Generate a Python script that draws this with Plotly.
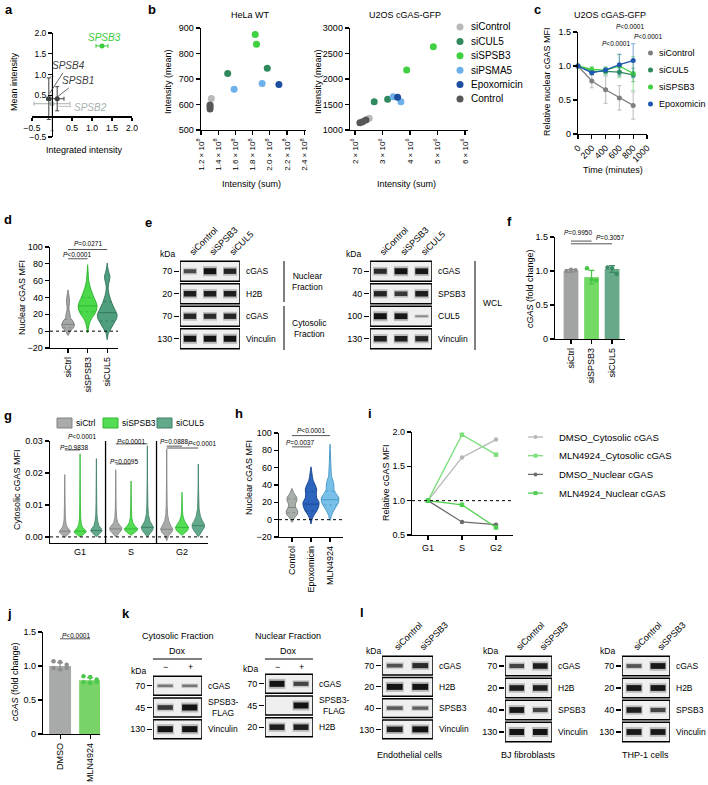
import numpy as np
import plotly.graph_objects as go

W, H = 708, 785
FONT = "Liberation Sans, Arial, Helvetica, sans-serif"

# ===================== DATA =====================
# a
A_GENES = ["SPSB2", "SPSB4", "SPSB1", "SPSB3"]
A_X = [0.0, -0.08, 0.13, 1.25]
A_Y = [0.30, 0.42, 0.42, 1.69]
A_XERR = [0.45, 0.05, 0.17, 0.15]
A_YERR = [0.65, 0.50, 0.29, 0.03]

# b
B_GROUPS = ["siControl", "siCUL5", "siSPSB3", "siPSMA5", "Epoxomicin", "Control"]
HELA_X = [[1.32], [1.51, 1.97], [1.83, 1.845], [1.585, 1.91], [2.105], [1.305, 1.305, 1.305]]   # x 10^8
HELA_Y = [[624], [722, 742], [875, 836], [660, 682], [678], [598, 591, 582]]
U2OS_X = [[2.52], [2.70, 3.19], [3.88, 4.85], [3.39, 3.67], [3.55], [2.18, 2.28, 2.40]]        # x 10^6
U2OS_Y = [[1229], [1555, 1602], [2176, 2633], [1653, 1555], [1641], [1143, 1163, 1196]]
HELA_TICKS = [1.2, 1.4, 1.6, 1.8, 2.0, 2.2, 2.4]
U2OS_TICKS = [2, 3, 4, 5, 6]

# c
C_GROUPS = ["siControl", "siCUL5", "siSPSB3", "Epoxomicin"]
C_TIME = [0, 200, 400, 600, 800]
C_VALS = [[1.0, 0.78, 0.65, 0.53, 0.42],
          [1.0, 0.92, 0.92, 0.91, 0.87],
          [1.0, 0.95, 0.94, 1.00, 0.89],
          [1.0, 0.90, 0.94, 1.02, 1.08]]
C_ERR = [[0, 0.10, 0.20, 0.18, 0.20],
         [0, 0.05, 0.05, 0.06, 0.10],
         [0, 0.04, 0.05, 0.17, 0.25],
         [0, 0.02, 0.03, 0.15, 0.25]]

# d  (violin outlines: value levels and half widths)
D_CATS = ["siCtrl", "siSPSB3", "siCUL5"]
D_Y = [[-5, 0, 4, 8, 12, 16, 20, 25, 30, 35, 40, 45, 49],
       [-2, 5, 10, 15, 20, 25, 30, 35, 40, 45, 50, 55, 60, 65, 70, 79],
       [-10, -3, 5, 10, 15, 20, 25, 30, 35, 40, 45, 50, 55, 60, 65, 70, 75, 81]]
D_W = [[0.0, 0.12, 0.28, 0.32, 0.25, 0.12, 0.10, 0.05, 0.05, 0.08, 0.06, 0.03, 0.0],
       [0.0, 0.05, 0.10, 0.20, 0.35, 0.45, 0.48, 0.42, 0.32, 0.24, 0.16, 0.10, 0.06, 0.04, 0.025, 0.0],
       [0.0, 0.05, 0.24, 0.36, 0.48, 0.50, 0.40, 0.30, 0.21, 0.14, 0.08, 0.05, 0.06, 0.11, 0.14, 0.08, 0.03, 0.0]]
D_MED = [8, 30, 22]
D_Q = [[4, 14], [23, 40], [12, 35]]

# e blots (band intensity, rows x lanes)
E1_LANES = ["siControl", "siSPSB3", "siCUL5"]
E1_KDA = ["70", "20", "70", "130"]
E1_NAMES = ["cGAS", "H2B", "cGAS", "Vinculin"]
E1_INT = [[0.55, 1.0, 0.85], [0.9, 0.9, 0.9], [0.85, 0.8, 0.85], [1.0, 1.0, 1.0]]
E2_KDA = ["70", "40", "100", "130"]
E2_NAMES = ["cGAS", "SPSB3", "CUL5", "Vinculin"]
E2_INT = [[0.8, 1.0, 0.95], [0.85, 0.7, 0.9], [1.0, 0.95, 0.1], [0.9, 0.9, 0.85]]

# f
F_CATS = ["siCtrl", "siSPSB3", "siCUL5"]
F_MEAN = [1.0, 0.91, 1.03]
F_SD = [0.02, 0.10, 0.05]
F_PTS = [[1.0, 1.02, 1.01], [1.04, 0.87, 0.86], [1.05, 1.04, 0.96]]

# g
G_PHASES = ["G1", "S", "G2"]
G_SERIES = ["siCtrl", "siSPSB3", "siCUL5"]
G_Y = [[[-0.0002, 0.0008, 0.0015, 0.002, 0.003, 0.004, 0.006, 0.010, 0.015, 0.0195],
        [0.0, 0.0008, 0.0015, 0.002, 0.003, 0.004, 0.006, 0.010, 0.018, 0.026],
        [0.0, 0.0010, 0.0018, 0.0025, 0.0035, 0.005, 0.007, 0.011, 0.018, 0.0245]],
       [[0.0, 0.0010, 0.0020, 0.0028, 0.0035, 0.0045, 0.006, 0.009, 0.015, 0.021],
        [0.0005, 0.0012, 0.0020, 0.0026, 0.0033, 0.0045, 0.006, 0.009, 0.013, 0.0175],
        [0.0, 0.0010, 0.0020, 0.0030, 0.0040, 0.005, 0.007, 0.010, 0.018, 0.0285]],
       [[-0.0012, 0.0005, 0.0015, 0.0025, 0.0035, 0.005, 0.007, 0.010, 0.018, 0.0275],
        [0.0005, 0.0012, 0.0020, 0.0030, 0.0040, 0.005, 0.0065, 0.008, 0.011, 0.014],
        [0.0, 0.0010, 0.0020, 0.0030, 0.0040, 0.005, 0.0065, 0.009, 0.015, 0.0228]]]
G_W = [[[0, 0.06, 0.11, 0.10, 0.05, 0.025, 0.012, 0.007, 0.004, 0],
        [0, 0.07, 0.12, 0.11, 0.05, 0.025, 0.012, 0.007, 0.004, 0],
        [0, 0.06, 0.11, 0.10, 0.05, 0.025, 0.012, 0.007, 0.004, 0]],
       [[0, 0.05, 0.11, 0.12, 0.08, 0.04, 0.018, 0.008, 0.004, 0],
        [0, 0.06, 0.12, 0.13, 0.08, 0.035, 0.015, 0.008, 0.004, 0],
        [0, 0.05, 0.10, 0.12, 0.09, 0.05, 0.02, 0.01, 0.004, 0]],
       [[0, 0.04, 0.10, 0.12, 0.08, 0.04, 0.018, 0.009, 0.004, 0],
        [0, 0.05, 0.11, 0.13, 0.09, 0.05, 0.02, 0.01, 0.005, 0],
        [0, 0.04, 0.09, 0.12, 0.12, 0.08, 0.04, 0.015, 0.005, 0]]]
G_MED = [[0.0018, 0.0018, 0.0020], [0.0025, 0.0025, 0.0030], [0.0024, 0.0030, 0.0035]]

# h
H_CATS = ["Control", "Epoxomicin", "MLN4924"]
H_Y = [[-3, 2, 6, 10, 14, 18, 22, 26, 30, 36],
       [-5, 0, 5, 10, 15, 20, 25, 30, 35, 40, 45, 50, 55, 61],
       [-1, 5, 10, 15, 20, 25, 30, 35, 40, 45, 50, 60, 70, 80, 87]]
H_W = [[0, 0.12, 0.28, 0.30, 0.20, 0.18, 0.26, 0.24, 0.12, 0],
       [0, 0.05, 0.15, 0.30, 0.40, 0.42, 0.30, 0.28, 0.30, 0.22, 0.12, 0.07, 0.04, 0],
       [0, 0.08, 0.18, 0.32, 0.44, 0.46, 0.32, 0.20, 0.20, 0.15, 0.08, 0.05, 0.03, 0.02, 0]]
H_MED = [14, 18, 23]
H_Q = [[8, 24], [10, 32], [17, 33]]

# i
I_SERIES = ["DMSO_Cytosolic cGAS", "MLN4924_Cytosolic cGAS", "DMSO_Nuclear cGAS", "MLN4924_Nuclear cGAS"]
I_PHASES = ["G1", "S", "G2"]
I_VALS = [[1.0, 1.63, 1.89], [1.0, 1.96, 1.67], [1.0, 0.69, 0.65], [1.0, 0.94, 0.61]]

# j
J_CATS = ["DMSO", "MLN4924"]
J_MEAN = [1.0, 0.79]
J_SD = [0.05, 0.04]
J_PTS = [[1.07, 1.06, 1.02, 0.97, 0.95, 0.97], [0.85, 0.84, 0.80, 0.76, 0.75, 0.77]]

# k blots
K_KDA = ["70", "45", "130"]
K_NAMES = ["cGAS", "SPSB3-<br>FLAG", "Vinculin"]
K1_INT = [[0.25, 0.25], [0.7, 1.0], [1.0, 1.0]]
K2_KDA = ["70", "45", "20"]
K2_NAMES = ["cGAS", "SPSB3-<br>FLAG", "H2B"]
K2_INT = [[1.0, 0.6], [0.0, 1.0], [0.9, 0.9]]

# l blots
L_LANES = ["siControl", "siSPSB3"]
L_KDA = ["70", "20", "40", "130"]
L_NAMES = ["cGAS", "H2B", "SPSB3", "Vinculin"]
L_ENDO_INT = [[0.5, 0.8], [1.0, 1.0], [0.45, 0.4], [0.9, 1.0]]
L_BJ_INT = [[0.6, 0.9], [0.9, 0.9], [0.95, 0.6], [1.0, 1.0]]
L_THP_INT = [[0.5, 0.95], [0.95, 0.95], [0.9, 0.6], [0.95, 0.95]]

# ===================== HELPERS =====================
def px(x):
    return x / W

def py(y):
    return 1 - y / H

fig = go.Figure()
anns, shapes, lay = [], [], {}
count = [0]

def new_axes(xdom, ydom, xr, yr, xkw=None, ykw=None):
    count[0] += 1
    n = count[0]
    s = "" if n == 1 else str(n)
    base = dict(showline=True, linecolor="black", linewidth=1.3, ticks="outside", ticklen=4,
                tickwidth=1.2, tickcolor="black", showgrid=False, zeroline=False, automargin=False,
                tickfont=dict(size=9, color="black", family=FONT), fixedrange=True)
    xa = dict(base, domain=[px(xdom[0]), px(xdom[1])], range=xr, anchor="y" + s)
    ya = dict(base, domain=[py(ydom[1]), py(ydom[0])], range=yr, anchor="x" + s)
    if xkw:
        xa.update(xkw)
    if ykw:
        ya.update(ykw)
    lay["xaxis" + s] = xa
    lay["yaxis" + s] = ya
    return "x" + s, "y" + s

def T(text, x, y, size=8.5, xa="center", ya="middle", angle=0, color="black"):
    anns.append(dict(text=text, x=px(x), y=py(y), xref="paper", yref="paper", xanchor=xa,
                     yanchor=ya, textangle=angle, showarrow=False,
                     font=dict(size=size, color=color, family=FONT)))

def PL(x0, y0, x1, y1, color="black", width=1.0):
    shapes.append(dict(type="line", xref="paper", yref="paper", x0=px(x0), y0=py(y0),
                       x1=px(x1), y1=py(y1), line=dict(color=color, width=width)))

def label(ch, x, y):
    T("<b>%s</b>" % ch, x, y, size=13, xa="left", ya="middle")

def ptext(t, x, y):
    T("<i>P</i>" + t, x, y, size=6.5)

def bracket(xa, ya, x0, x1, yv, color="#555", width=1.0):
    shapes.append(dict(type="line", xref=xa, yref=ya, x0=x0, x1=x1, y0=yv, y1=yv,
                       line=dict(color=color, width=width)))

def dotted(xa, ya, yv):
    shapes.append(dict(type="line", xref=xa + " domain", yref=ya, x0=0, x1=1, y0=yv, y1=yv,
                       line=dict(color="black", width=1, dash="dot")))

def violin(xa, ya, xc, ys, ws, fill, line, med, quart=None, smooth=True, lw=1.0):
    xs = [xc + w for w in ws] + [xc - w for w in reversed(ws)]
    yy = list(ys) + list(reversed(ys))
    fig.add_trace(go.Scatter(x=xs, y=yy, mode="lines", fill="toself", fillcolor=fill,
                             line=dict(color=line, width=lw, shape="spline" if smooth else "linear", smoothing=0.7),
                             xaxis=xa, yaxis=ya, showlegend=False, hoverinfo="skip"))
    w = float(np.interp(med, ys, ws))
    fig.add_trace(go.Scatter(x=[xc - w, xc + w], y=[med, med], mode="lines",
                             line=dict(color=line, width=1), xaxis=xa, yaxis=ya,
                             showlegend=False, hoverinfo="skip"))
    if quart:
        for q in quart:
            w = float(np.interp(q, ys, ws))
            fig.add_trace(go.Scatter(x=[xc - w, xc + w], y=[q, q], mode="lines",
                                     line=dict(color=line, width=0.8, dash="dot"), xaxis=xa, yaxis=ya,
                                     showlegend=False, hoverinfo="skip"))

def blot(box, inten, kda, names, lanes=None):
    x0, y0, x1, y1 = box
    nr, nl = len(inten), len(inten[0])
    xkw = dict(showline=False, ticks="", showticklabels=bool(lanes))
    if lanes:
        xkw.update(side="top", tickvals=[i + 0.5 for i in range(nl)], ticktext=lanes, tickangle=-45)
    ykw = dict(showline=False, tickvals=[i + 0.5 for i in range(nr)], ticktext=kda, ticklen=5)
    xa, ya = new_axes((x0, x1), (y0, y1), [0, nl], [nr, 0], xkw, ykw)
    for r in range(nr):
        shapes.append(dict(type="rect", xref=xa, yref=ya, x0=0, x1=nl, y0=r + 0.06, y1=r + 0.94,
                           line=dict(color="black", width=1.5), fillcolor="#efefef", layer="below"))
        for l in range(nl):
            v = inten[r][l]
            if v <= 0:
                continue
            fig.add_trace(go.Scatter(x=[l + 0.15, l + 0.85], y=[r + 0.5, r + 0.5], mode="lines",
                                     line=dict(color="rgba(0,0,0,%.2f)" % (0.08 + 0.15 * v), width=3 + 7 * v),
                                     xaxis=xa, yaxis=ya, showlegend=False, hoverinfo="skip"))
            fig.add_trace(go.Scatter(x=[l + 0.19, l + 0.81], y=[r + 0.5, r + 0.5], mode="lines",
                                     line=dict(color="rgba(10,10,10,%.2f)" % (0.3 + 0.65 * v), width=1.5 + 4.5 * v),
                                     xaxis=xa, yaxis=ya, showlegend=False, hoverinfo="skip"))
        T(names[r], x1 + 4, y0 + (r + 0.5) * (y1 - y0) / nr, xa="left")
    return xa, ya

# ===================== PANEL a =====================
label("a", 3, 10)
A_COL = ["#a7b1ae", "#3f3f3f", "#3f3f3f", "#3ccc3c"]
A_TF = dict(size=8.5, color="black", family=FONT)
xa, ya = new_axes((32, 132), (33, 137), [-0.5, 2.0], [-0.5, 2.0],
                  xkw=dict(anchor="free", position=py(116.2), tickvals=[-0.5, 0.5, 1.0, 1.5, 2.0],
                           tickformat=".1f", tickfont=A_TF, ticklen=3),
                  ykw=dict(anchor="free", position=px(52), tickvals=[-0.5, 0.5, 1.0, 1.5, 2.0],
                           tickformat=".1f", tickfont=A_TF))
for i, g in enumerate(A_GENES):
    fig.add_trace(go.Scatter(x=[A_X[i]], y=[A_Y[i]], mode="markers", xaxis=xa, yaxis=ya,
                             marker=dict(size=5, color=A_COL[i]), showlegend=False, cliponaxis=False,
                             error_x=dict(type="data", array=[A_XERR[i]], color=A_COL[i], thickness=1, width=2),
                             error_y=dict(type="data", array=[A_YERR[i]], color=A_COL[i], thickness=1, width=2)))
A_LAB_POS = {"SPSB3": (1.3, 1.9, None), "SPSB4": (0.4, 1.23, (-0.06, 0.55)),
             "SPSB1": (0.66, 0.86, (0.13, 0.46)), "SPSB2": (0.95, 0.22, (0.12, 0.24))}
for i, g in enumerate(A_GENES):
    tx, ty, tgt = A_LAB_POS[g]
    if tgt is None:
        anns.append(dict(text="<i>%s</i>" % g, x=tx, y=ty, xref=xa, yref=ya, showarrow=False,
                         font=dict(size=10, color=A_COL[i], family=FONT)))
    else:
        anns.append(dict(text="<i>%s</i>" % g, x=tgt[0], y=tgt[1], ax=tx, ay=ty, xref=xa, yref=ya,
                         axref=xa, ayref=ya, showarrow=True, arrowhead=0, arrowwidth=0.8,
                         arrowcolor=A_COL[i], standoff=0, startstandoff=1,
                         font=dict(size=10, color=A_COL[i], family=FONT)))
T("Integrated intensity", 84, 150, size=9)
T("Mean intensity", 14, 82, size=9, angle=-90)

# ===================== PANEL b =====================
label("b", 146, 10)
B_COL = ["#b9b9b9", "#2e8a5c", "#3fd13f", "#6eb0ea", "#1d4ea0", "#575757"]
xa, ya = new_axes((201, 306), (28, 130), [1.2, 2.42], [500, 900],
                  xkw=dict(tickvals=HELA_TICKS, ticktext=["%.1f × 10<sup>8</sup>" % v for v in HELA_TICKS],
                           tickangle=-90, tickfont=dict(size=8, color="black", family=FONT)),
                  ykw=dict(tickvals=[500, 600, 700, 800, 900]))
for k, g in enumerate(B_GROUPS):
    fig.add_trace(go.Scatter(x=HELA_X[k], y=HELA_Y[k], mode="markers", xaxis=xa, yaxis=ya,
                             marker=dict(size=7, color=B_COL[k]), showlegend=False, cliponaxis=False))
T("HeLa WT", 250, 15, size=9)
T("Intensity (mean)", 168, 82, size=9, angle=-90)
T("Intensity (sum)", 251, 184, size=9)

xa, ya = new_axes((350, 468), (28, 130), [1.82, 6.11], [1000, 3000],
                  xkw=dict(tickvals=U2OS_TICKS, ticktext=["%d × 10<sup>6</sup>" % v for v in U2OS_TICKS],
                           tickangle=-90, tickfont=dict(size=8, color="black", family=FONT)),
                  ykw=dict(tickvals=[1000, 1500, 2000, 2500, 3000]))
for k, g in enumerate(B_GROUPS):
    fig.add_trace(go.Scatter(x=U2OS_X[k], y=U2OS_Y[k], mode="markers", xaxis=xa, yaxis=ya,
                             marker=dict(size=7, color=B_COL[k]), showlegend=False, cliponaxis=False))
T("U2OS cGAS-GFP", 405, 15, size=9)
T("Intensity (mean)", 318, 82, size=9, angle=-90)
T("Intensity (sum)", 407, 184, size=9)
for k, g in enumerate(B_GROUPS):
    cy = 27 + 14.4 * k
    shapes.append(dict(type="circle", xref="paper", yref="paper", x0=px(456.5), x1=px(463.5),
                       y0=py(cy + 3.5), y1=py(cy - 3.5), fillcolor=B_COL[k], line=dict(width=0)))
    T(g, 469, cy, size=10, xa="left")

# ===================== PANEL c =====================
label("c", 532, 10)
C_COL = ["#808080", "#2e8a5c", "#3fd13f", "#1f58b3"]
C_ECOL = ["rgba(128,128,128,0.45)", "rgba(46,138,92,0.45)", "rgba(63,209,63,0.45)", "rgba(31,88,179,0.45)"]
xa, ya = new_axes((578, 647), (32, 134), [0, 1000], [0, 1.5],
                  xkw=dict(tickvals=[0, 200, 400, 600, 800, 1000], tickangle=-45),
                  ykw=dict(tickvals=[0, 0.5, 1.0, 1.5], ticktext=["0", "0.5", "1.0", "1.5"]))
for k, g in enumerate(C_GROUPS):
    fig.add_trace(go.Scatter(x=C_TIME, y=C_VALS[k], mode="lines+markers", xaxis=xa, yaxis=ya,
                             line=dict(color=C_COL[k], width=1.3), marker=dict(size=5, color=C_COL[k]),
                             error_y=dict(type="data", array=C_ERR[k], color=C_ECOL[k], thickness=1.2, width=2),
                             showlegend=False, cliponaxis=False))
T("U2OS cGAS-GFP", 610, 15, size=9)
T("Relative nuclear cGAS MFI", 547, 82, size=9, angle=-90)
T("Time (minutes)", 613, 170, size=9)
ptext("&lt;0.0001", 616, 44)
ptext("&lt;0.0001", 630, 27)
ptext("&lt;0.0001", 648, 37)
for k, g in enumerate(C_GROUPS):
    cy = 53 + 17 * k
    shapes.append(dict(type="circle", xref="paper", yref="paper", x0=px(648), x1=px(653),
                       y0=py(cy + 2.5), y1=py(cy - 2.5), fillcolor=C_COL[k], line=dict(width=0)))
    T(g, 657, cy, size=9, xa="left")

# ===================== PANEL d =====================
label("d", 2, 220)
D_FILL = ["#a6a8a7", "#4bd94b", "#4f9e7e"]
D_LINE = ["#7d807e", "#2fb52f", "#35775d"]
xa, ya = new_axes((50, 118), (247, 348), [-0.92, 2.55], [-20, 100],
                  xkw=dict(tickvals=[0, 1, 2], ticktext=D_CATS, tickangle=-90),
                  ykw=dict(tickvals=[-20, 0, 20, 40, 60, 80, 100]))
dotted(xa, ya, 0)
for k in range(3):
    violin(xa, ya, k, D_Y[k], D_W[k], D_FILL[k], D_LINE[k], D_MED[k], D_Q[k])
bracket(xa, ya, 0, 1, 86)
bracket(xa, ya, 0, 2, 97)
ptext("&lt;0.0001", 77, 255)
ptext("=0.0271", 88, 244)
T("Nuclear cGAS MFI", 22, 298, size=9, angle=-90)

# ===================== PANEL e =====================
label("e", 143, 223)
blot((180, 260, 240, 350), E1_INT, E1_KDA, E1_NAMES, E1_LANES)
T("kDa", 167, 254, size=8.5)
PL(284, 261, 284, 302)
PL(284, 306, 284, 350)
T("Nuclear<br>Fraction", 290, 282, xa="left", size=8.5)
T("Cytosolic<br>Fraction", 290, 328, xa="left", size=8.5)
blot((370, 260, 432, 350), E2_INT, E2_KDA, E2_NAMES, E1_LANES)
T("kDa", 353, 254, size=8.5)
PL(475, 261, 475, 350)
T("WCL", 481, 303, xa="left", size=8.5)

# ===================== PANEL f =====================
label("f", 505, 222)
F_BAR = ["#a2a4a3", "#74da66", "#68a98a"]
F_DOT = ["#8d8f8e", "#46c646", "#3a8a64"]
F_JIT = [-0.22, 0.0, 0.22]
xa, ya = new_axes((555, 625), (237, 339), [-0.78, 2.63], [0, 1.5],
                  xkw=dict(tickvals=[0, 1, 2], ticktext=F_CATS, tickangle=-90),
                  ykw=dict(tickvals=[0, 0.5, 1.0, 1.5], ticktext=["0", "0.5", "1.0", "1.5"]))
for k in range(3):
    fig.add_trace(go.Bar(x=[k], y=[F_MEAN[k]], width=0.72, marker=dict(color=F_BAR[k], line=dict(width=0)),
                         error_y=dict(type="data", array=[F_SD[k]], color=F_DOT[k], thickness=1.2, width=3),
                         xaxis=xa, yaxis=ya, showlegend=False))
    fig.add_trace(go.Scatter(x=[k + j for j in F_JIT], y=F_PTS[k], mode="markers",
                             marker=dict(size=4.5, color=F_DOT[k]), xaxis=xa, yaxis=ya, showlegend=False))
bracket(xa, ya, 0, 1, 1.44)
bracket(xa, ya, 0, 2, 1.40)
ptext("=0.9950", 578, 233)
ptext("=0.3057", 610, 238)
T("<i>cGAS</i> (fold change)", 530, 289, size=9, angle=-90)

# ===================== PANEL g =====================
label("g", 2, 415)
G_FILL = ["#a9abaa", "#55dc55", "#62a98b"]
G_LINE = ["#808281", "#30b830", "#3f7f64"]
G_OFF = [-0.3, 0.0, 0.32]
xa, ya = new_axes((50, 208), (441, 543), [-0.59, 2.51], [-0.0019, 0.03],
                  xkw=dict(tickvals=[0, 1, 2], ticktext=G_PHASES, ticks=""),
                  ykw=dict(tickvals=[0, 0.01, 0.02, 0.03], tickformat=".2f"))
dotted(xa, ya, 0)
for sep in [0.5, 1.5]:
    shapes.append(dict(type="line", xref=xa, yref=ya + " domain", x0=sep, x1=sep, y0=0, y1=1,
                       line=dict(color="black", width=1.3)))
for p in range(3):
    for s in range(3):
        violin(xa, ya, p + G_OFF[s], G_Y[p][s], G_W[p][s], G_FILL[s], G_LINE[s], G_MED[p][s],
               smooth=False, lw=0.8)
bracket(xa, ya, 0 + G_OFF[0], 0 + G_OFF[2], 0.0303)
bracket(xa, ya, 0 + G_OFF[0], 0 + G_OFF[1], 0.0272)
bracket(xa, ya, 1 + G_OFF[0], 1 + G_OFF[2], 0.0291)
bracket(xa, ya, 1 + G_OFF[0], 1 + G_OFF[1], 0.0228)
bracket(xa, ya, 2 + G_OFF[0], 2 + G_OFF[1], 0.0284)
bracket(xa, ya, 2 + G_OFF[0], 2 + G_OFF[2], 0.0278)
ptext("&lt;0.0001", 82, 436)
ptext("=0.9838", 74, 447)
ptext("&lt;0.0001", 131, 441)
ptext("=0.0095", 124, 461)
ptext("=0.0888", 174, 441)
ptext("&lt;0.0001", 202, 443)
T("Cytosolic cGAS MFI", 17, 490, size=9, angle=-90)
G_LEG_X = [57, 103, 157]
for s in range(3):
    shapes.append(dict(type="rect", xref="paper", yref="paper", x0=px(G_LEG_X[s]), x1=px(G_LEG_X[s] + 15),
                       y0=py(428), y1=py(418), fillcolor=G_FILL[s], line=dict(color=G_LINE[s], width=1)))
    T(G_SERIES[s], G_LEG_X[s] + 17, 423, size=8.5, xa="left")

# ===================== PANEL h =====================
label("h", 233, 413)
H_FILL = ["#a9b0ac", "#2d64bd", "#78c0e8"]
H_LINE = ["#7f8782", "#1b4a94", "#4a9cc9"]
xa, ya = new_axes((279, 343), (433, 537), [-0.68, 2.68], [-20, 100],
                  xkw=dict(tickvals=[0, 1, 2], ticktext=H_CATS, tickangle=-90),
                  ykw=dict(tickvals=[-20, 0, 20, 40, 60, 80, 100]))
dotted(xa, ya, 0)
for k in range(3):
    violin(xa, ya, k, H_Y[k], H_W[k], H_FILL[k], H_LINE[k], H_MED[k], H_Q[k])
bracket(xa, ya, 0, 2, 97)
bracket(xa, ya, 0, 1, 84)
ptext("&lt;0.0001", 311, 430)
ptext("=0.0037", 300, 442)
T("Nuclear cGAS MFI", 249, 478, size=9, angle=-90)

# ===================== PANEL i =====================
label("i", 366, 413)
I_COL = ["#b6b6b6", "#7cdf7c", "#6c6c6c", "#4fcf4f"]
I_SYM = ["circle", "square", "circle", "square"]
xa, ya = new_axes((412, 513), (432, 535), [-0.47, 2.5], [0.5, 2.0],
                  xkw=dict(tickvals=[0, 1, 2], ticktext=I_PHASES),
                  ykw=dict(tickvals=[0.5, 1.0, 1.5, 2.0], tickformat=".1f"))
dotted(xa, ya, 1.0)
for k in range(4):
    fig.add_trace(go.Scatter(x=[0, 1, 2], y=I_VALS[k], mode="lines+markers", xaxis=xa, yaxis=ya,
                             line=dict(color=I_COL[k], width=1.3),
                             marker=dict(size=4.5, color=I_COL[k], symbol=I_SYM[k]),
                             showlegend=False, cliponaxis=False))
T("Relative cGAS MFI", 386, 483, size=9, angle=-90)
for k in range(4):
    cy = 437 + 18.7 * k
    PL(528, cy, 543, cy, color=I_COL[k], width=1.3)
    if I_SYM[k] == "circle":
        shapes.append(dict(type="circle", xref="paper", yref="paper", x0=px(533.5), x1=px(537.5),
                           y0=py(cy + 2), y1=py(cy - 2), fillcolor=I_COL[k], line=dict(width=0)))
    else:
        shapes.append(dict(type="rect", xref="paper", yref="paper", x0=px(533.5), x1=px(537.5),
                           y0=py(cy + 2), y1=py(cy - 2), fillcolor=I_COL[k], line=dict(width=0)))
    T(I_SERIES[k], 557, cy, size=9.5, xa="left")

# ===================== PANEL j =====================
label("j", 5, 613)
J_BAR = ["#a8aaa9", "#78d466"]
J_DOT = ["#8d8f8e", "#4cc84c"]
J_JIT = [-0.22, 0.0, 0.22, -0.22, 0.0, 0.22]
xa, ya = new_axes((43, 100), (632, 734), [-0.57, 1.33], [0, 1.5],
                  xkw=dict(tickvals=[0, 1], ticktext=J_CATS, tickangle=-90),
                  ykw=dict(tickvals=[0, 0.5, 1.0, 1.5], ticktext=["0", "0.5", "1.0", "1.5"]))
for k in range(2):
    fig.add_trace(go.Bar(x=[k], y=[J_MEAN[k]], width=0.73, marker=dict(color=J_BAR[k], line=dict(width=0)),
                         error_y=dict(type="data", array=[J_SD[k]], color=J_DOT[k], thickness=1.2, width=3),
                         xaxis=xa, yaxis=ya, showlegend=False))
    fig.add_trace(go.Scatter(x=[k + j for j in J_JIT], y=J_PTS[k], mode="markers",
                             marker=dict(size=4.5, color=J_DOT[k]), xaxis=xa, yaxis=ya, showlegend=False))
bracket(xa, ya, 0, 1, 1.40)
ptext("&lt;0.0001", 76, 635)
T("<i>cGAS</i> (fold change)", 15, 682, size=9, angle=-90)

# ===================== PANEL k =====================
label("k", 120, 613)
blot((153, 675, 202, 740), K1_INT, K_KDA, K_NAMES)
T("Cytosolic Fraction", 178, 636, size=9)
T("Dox", 177, 651, size=9)
PL(153, 659, 202, 659)
T("−", 165, 667, size=9)
T("+", 190, 667, size=9)
T("kDa", 138, 671, size=8.5)
blot((265, 673, 313, 738), K2_INT, K2_KDA, K2_NAMES)
T("Nuclear Fraction", 288, 636, size=9)
T("Dox", 288, 651, size=9)
PL(265, 659, 313, 659)
T("−", 277, 667, size=9)
T("+", 301, 667, size=9)
T("kDa", 250, 669, size=8.5)

# ===================== PANEL l =====================
label("l", 358, 612)
blot((382, 655, 433, 740), L_ENDO_INT, L_KDA, L_NAMES, L_LANES)
T("kDa", 373, 651, size=8.5)
T("Endothelial cells", 410, 755, size=9)
blot((505, 655, 552, 743), L_BJ_INT, L_KDA, L_NAMES, L_LANES)
T("kDa", 490, 651, size=8.5)
T("BJ fibroblasts", 528, 755, size=9)
blot((622, 655, 670, 743), L_THP_INT, L_KDA, L_NAMES, L_LANES)
T("kDa", 607, 651, size=8.5)
T("THP-1 cells", 645, 755, size=9)

# ===================== LAYOUT =====================
fig.update_layout(template="none", width=W, height=H, margin=dict(l=0, r=0, t=0, b=0, pad=0),
                  paper_bgcolor="white", plot_bgcolor="rgba(0,0,0,0)", showlegend=False, barmode="overlay",
                  font=dict(family=FONT, size=8.5, color="black"),
                  annotations=anns, shapes=shapes, **lay)
fig.write_html("out.html", config={"displayModeBar": False, "staticPlot": True},
               post_script="document.body.style.margin='0px';")
